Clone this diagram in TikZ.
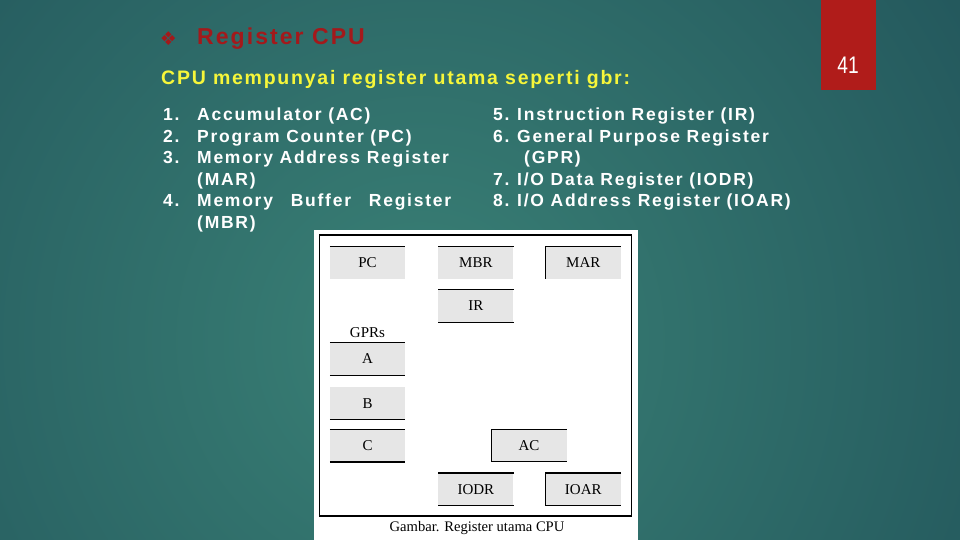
\documentclass[tikz,border=0pt]{standalone}
\usepackage{fontspec}
\setmainfont{Liberation Serif}
\newfontfamily\slidefont{Liberation Sans}
\newfontfamily\listfont{Liberation Sans}[LetterSpace=10]
\newfontfamily\headfont{Liberation Sans}[LetterSpace=9]
\newfontfamily\symfont{DejaVu Sans}
\usepackage{xcolor}
\usetikzlibrary{positioning}
\definecolor{bgin}{HTML}{3A8176}
\definecolor{bgout}{HTML}{123849}
\definecolor{titlered}{HTML}{A3191B}
\definecolor{boxred}{HTML}{B01C1A}
\definecolor{subyellow}{HTML}{F6F63A}
\definecolor{reggray}{HTML}{E6E6E6}

\begin{document}
\begin{tikzpicture}[
    x=1pt, y=-1pt,
    reg/.style={fill=reggray, minimum width=75pt, minimum height=32pt, inner sep=0pt, font=\fontsize{15}{17}\selectfont},
    edge/.style={line width=1.1pt},
    listtext/.style={anchor=base west, inner sep=0pt, text=white, font=\listfont\bfseries\fontsize{17.5}{21.6}\selectfont}
]
    \useasboundingbox (0,0) rectangle (960,540);

    % Background
    \begin{scope}
        \clip (0,0) rectangle (960,540);
        \shade[inner color=bgin, outer color=bgout] (420,340) circle (1150);
    \end{scope}
    \fill[boxred] (821,0) rectangle (876,90);
    \node[text=white, font=\slidefont\fontsize{24}{24}\selectfont, xscale=0.8] (pagenum) at (848,65) {41};

    % Title
    \node[text=titlered, font=\symfont\fontsize{19}{19}\selectfont] (bullet) at (168.5,39) {❖};
    \node[anchor=west, inner sep=0pt, text=titlered, font=\headfont\bfseries\fontsize{23}{26}\selectfont] (title) at (197,39) {Register CPU};
    \node[anchor=west, inner sep=0pt, text=subyellow, font=\headfont\bfseries\fontsize{19.5}{22}\selectfont] (subtitle) at (161,80) {CPU mempunyai register utama seperti gbr:};

    % Lists
    \node[listtext] (leftlist) at (163,120.5) {\begin{tabular}[t]{@{}l@{}}
        \makebox[34pt][l]{1.}Accumulator (AC)\\
        \makebox[34pt][l]{2.}Program Counter (PC)\\
        \makebox[34pt][l]{3.}Memory Address Register\\
        \makebox[34pt][l]{}(MAR)\\
        \makebox[34pt][l]{4.}\makebox[254pt][s]{Memory Buffer Register}\\
        \makebox[34pt][l]{}(MBR)
    \end{tabular}};
    \node[listtext] (rightlist) at (493,120.5) {\begin{tabular}[t]{@{}l@{}}
        \makebox[24pt][l]{5.}Instruction Register (IR)\\
        \makebox[24pt][l]{6.}General Purpose Register\\
        \makebox[31pt][l]{}(GPR)\\
        \makebox[24pt][l]{7.}I/O Data Register (IODR)\\
        \makebox[24pt][l]{8.}I/O Address Register (IOAR)
    \end{tabular}};

    % Figure panel
    \fill[white] (314,230) rectangle (638,540);
    \draw[line width=1.3pt] (319.5,235) rectangle (631.5,516);

    % Registers
    \node[reg] (pc) at (367.5,262.5) {PC};
    \node[reg, right=33pt of pc] (mbr) {MBR};
    \node[reg, right=32pt of mbr] (mar) {MAR};
    \node[reg, below=11pt of mbr] (ir) {IR};
    \node[reg] (a) at (367.5,359) {A};
    \node[above=4pt of a, inner sep=1pt, font=\fontsize{15}{17}\selectfont] (gprs) {GPRs};
    \node[reg, below=12pt of a] (b) {B};
    \node[reg, below=10pt of b] (c) {C};
    \node[reg] (ac) at (529,445.5) {AC};
    \node[reg, below=11pt of c.south -| mbr] (iodr) {IODR};
    \node[reg, below=11pt of c.south -| mar] (ioar) {IOAR};

    % Register edges
    \draw[edge] (pc.north west) -- (pc.north east);
    \draw[edge] (mbr.north west) -- (mbr.north east);
    \draw[edge] (mar.south west) -- (mar.north west) -- (mar.north east);
    \draw[edge] (ir.north west) -- (ir.north east) (ir.south west) -- (ir.south east);
    \draw[edge] (a.north west) -- (a.north east) (a.south west) -- (a.south east);
    \draw[edge] (b.south west) -- (b.south east);
    \draw[edge] (c.north west) -- (c.north east) (c.south west) -- (c.south east);
    \draw[edge] (ac.north east) -- (ac.north west) -- (ac.south west) -- (ac.south east);
    \draw[edge] (iodr.north west) -- (iodr.north east) (iodr.south west) -- (iodr.south east);
    \draw[edge] (ioar.north east) -- (ioar.north west) -- (ioar.south west) -- (ioar.south east);

    % Caption
    \node[font=\fontsize{14.6}{16}\selectfont] (caption) at (477,528) {Gambar. Register utama CPU};
\end{tikzpicture}
\end{document}
